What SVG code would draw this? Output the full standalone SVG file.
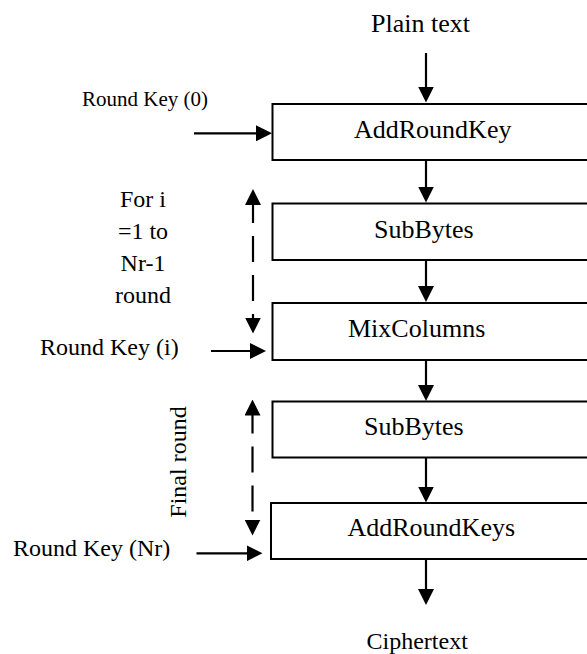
<svg xmlns="http://www.w3.org/2000/svg" width="587" height="654" viewBox="0 0 587 654">
  <style>
    text { font-family: "Liberation Serif", "Times New Roman", serif; fill: #000; }
    .box { fill: #fff; stroke: #000; stroke-width: 2; }
    .lbl { font-size: 26px; }
    .side { font-size: 24px; }
    .small { font-size: 21px; }
    .wire { stroke: #000; stroke-width: 2.2; fill: none; }
    .dash { stroke-dasharray: 26 13; }
  </style>
  <defs>
    <marker id="head" viewBox="0 0 16 16" refX="8" refY="8" markerWidth="16" markerHeight="16" markerUnits="userSpaceOnUse" orient="auto-start-reverse">
      <path d="M0,0 L16,8 L0,16 z" fill="#000"/>
    </marker>
  </defs>

  <rect width="587" height="654" fill="#fff"/>

  <!-- stage boxes (right side runs off the page) -->
  <g id="add-round-key">
    <rect class="box" x="272.5" y="104" width="330" height="56"/>
    <text class="lbl" x="354" y="137.5">AddRoundKey</text>
  </g>
  <g id="sub-bytes-1">
    <rect class="box" x="272.5" y="203.5" width="330" height="56.5"/>
    <text class="lbl" x="374" y="237.5">SubBytes</text>
  </g>
  <g id="mix-columns">
    <rect class="box" x="272.5" y="303" width="330" height="57"/>
    <text class="lbl" x="348" y="337">MixColumns</text>
  </g>
  <g id="sub-bytes-2">
    <rect class="box" x="272.5" y="401.5" width="330" height="56"/>
    <text class="lbl" x="364" y="435">SubBytes</text>
  </g>
  <g id="add-round-keys">
    <rect class="box" x="271" y="503" width="330" height="56"/>
    <text class="lbl" x="347.5" y="536">AddRoundKeys</text>
  </g>

  <!-- inputs, outputs and annotations -->
  <g id="plain-text">
    <text class="lbl" x="371" y="32.3">Plain text</text>
  </g>
  <g id="ciphertext">
    <text class="side" x="366.5" y="649">Ciphertext</text>
  </g>
  <g id="round-key-0">
    <text class="small" x="82" y="106">Round Key (0)</text>
  </g>
  <g id="round-key-i">
    <text class="side" x="40" y="354.5">Round Key (i)</text>
  </g>
  <g id="round-key-nr">
    <text class="side" x="13" y="556">Round Key (Nr)</text>
  </g>
  <g id="loop-label">
    <text class="side" text-anchor="middle" x="143" y="207">For i</text>
    <text class="side" text-anchor="middle" x="143" y="239">=1 to</text>
    <text class="side" text-anchor="middle" x="143" y="271">Nr-1</text>
    <text class="side" text-anchor="middle" x="143" y="303">round</text>
  </g>
  <g id="final-round-label">
    <text class="side" text-anchor="middle" transform="translate(186,462) rotate(-90)">Final round</text>
  </g>

  <!-- connectors -->
  <g id="connectors">
    <!-- main data path -->
    <line class="wire" x1="426" y1="53" x2="426" y2="94.5" marker-end="url(#head)"/>
    <line class="wire" x1="426" y1="160" x2="426" y2="194.5" marker-end="url(#head)"/>
    <line class="wire" x1="426" y1="260" x2="426" y2="294" marker-end="url(#head)"/>
    <line class="wire" x1="426" y1="360" x2="426" y2="393" marker-end="url(#head)"/>
    <line class="wire" x1="426" y1="458" x2="426" y2="494.5" marker-end="url(#head)"/>
    <line class="wire" x1="426" y1="559" x2="426" y2="597" marker-end="url(#head)"/>
    <!-- round keys -->
    <line class="wire" x1="194" y1="133.3" x2="264" y2="133.3" marker-end="url(#head)"/>
    <line class="wire" x1="211" y1="351" x2="258" y2="351" marker-end="url(#head)"/>
    <line class="wire" x1="196.5" y1="553.3" x2="254.5" y2="553.3" marker-end="url(#head)"/>
    <!-- round ranges -->
    <line class="wire dash" x1="253" y1="197" x2="253" y2="325.5" marker-start="url(#head)" marker-end="url(#head)"/>
    <line class="wire dash" x1="252.5" y1="407.5" x2="252.5" y2="527.5" marker-start="url(#head)" marker-end="url(#head)"/>
  </g>
</svg>
